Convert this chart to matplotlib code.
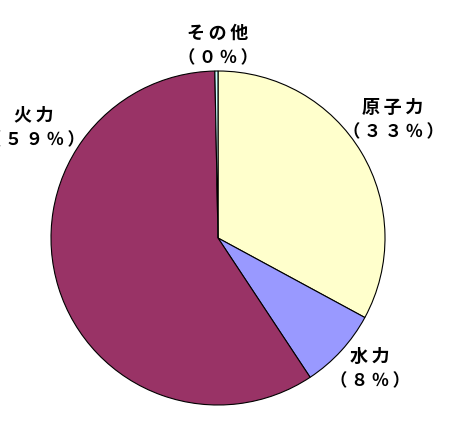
import matplotlib
matplotlib.use("Agg")
from matplotlib import pyplot as plt

plt.rcParams['font.family'] = ['Noto Sans CJK JP', 'DejaVu Sans']

# 発電電力量の構成比
labels = ["原子力", "水力", "火力", "その他"]
values = [32.9, 7.8, 59.0, 0.3]
pct_labels = ["（３３％）", "（８％）", "（５９％）", "（０％）"]
colors = ["#FFFFCC", "#9999FF", "#993366", "#CCFFFF"]

# ラベルの位置 (ピクセル)
label_pos = [(393, 107), (370, 356), (34, 115), (218, 33)]

W, H = 450, 424
fig = plt.figure(figsize=(W / 100, H / 100), dpi=100)
fig.patch.set_facecolor("white")

cx, cy, r = 218, 238, 167
ax = fig.add_axes([(cx - r) / W, (H - cy - r) / H, 2 * r / W, 2 * r / H])
ax.pie(values, colors=colors, startangle=90, counterclock=False,
       wedgeprops=dict(edgecolor="black", linewidth=0.8))
ax.set_aspect("equal")
ax.set_xlim(-1, 1)
ax.set_ylim(-1, 1)
ax.axis("off")


def spaced(s, gap):
    # 文字間を少し広げる
    return gap.join(s)


for name, pct, (x, y) in zip(labels, pct_labels, label_pos):
    fig.text(x / W, 1 - y / H, spaced(name, "\u2009"), ha="center",
             va="center", fontsize=13, fontweight="bold")
    fig.text(x / W, 1 - (y + 25) / H, spaced(pct, "\u2009"), ha="center",
             va="center", fontsize=12.5, fontweight="bold")

fig.savefig("out.png", dpi=100)
plt.close(fig)
